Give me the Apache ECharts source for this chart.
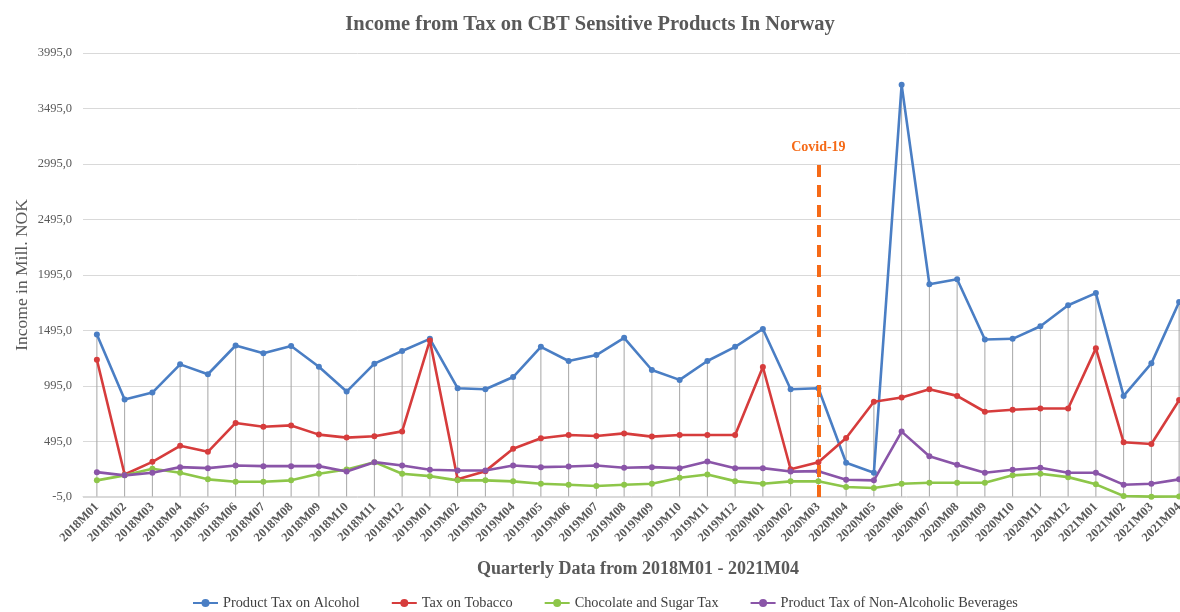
<!DOCTYPE html>
<html>
<head>
<meta charset="utf-8">
<title>Income from Tax on CBT Sensitive Products In Norway</title>
<script src="https://cdn.jsdelivr.net/npm/echarts@6/dist/echarts.min.js"></script>
<style>
  * { margin: 0; padding: 0; }
  html, body { width: 1180px; height: 612px; background: #fff; }
  #chart1 { width: 1180px; height: 612px; }
</style>
</head>
<body>
<div id="chart1"></div>
<script>
// months 2018M01 - 2021M04
var months = [
  '2018M01','2018M02','2018M03','2018M04','2018M05','2018M06','2018M07','2018M08','2018M09','2018M10','2018M11','2018M12',
  '2019M01','2019M02','2019M03','2019M04','2019M05','2019M06','2019M07','2019M08','2019M09','2019M10','2019M11','2019M12',
  '2020M01','2020M02','2020M03','2020M04','2020M05','2020M06','2020M07','2020M08','2020M09','2020M10','2020M11','2020M12',
  '2021M01','2021M02','2021M03','2021M04'
];
var alcohol = [
  1459, 873, 936, 1190, 1101, 1360, 1289, 1355, 1169, 945, 1196, 1310,
  1420, 975, 966, 1076, 1348, 1220, 1274, 1429, 1139, 1050, 1220, 1348,
  1509, 966, 975, 303, 214, 3708, 1912, 1957, 1414, 1420, 1533, 1722,
  1832, 906, 1199, 1751
];
var tobacco = [
  1231, 198, 312, 456, 402, 662, 628, 640, 557, 530, 542, 586,
  1405, 154, 228, 429, 524, 554, 545, 568, 539, 554, 554, 554,
  1166, 245, 309, 527, 853, 891, 966, 906, 763, 781, 792, 792,
  1334, 488, 473, 868
];
var chocolate = [
  145, 190, 250, 214, 154, 133, 133, 145, 205, 243, 309, 205,
  183, 145, 145, 136, 115, 106, 94, 106, 115, 169, 198, 138,
  115, 136, 136, 85, 76, 115, 124, 124, 124, 190, 205, 174,
  109, 4, -2, 0
];
var nonAlcoholic = [
  219, 190, 214, 264, 255, 279, 273, 273, 273, 225, 309, 279,
  241, 234, 234, 279, 264, 270, 279, 258, 264, 255, 315, 255,
  255, 224, 228, 151, 145, 584, 362, 285, 214, 241, 258, 214,
  214, 106, 115, 154
];
var seriesNames = ['Product Tax on Alcohol', 'Tax on Tobacco', 'Chocolate and Sugar Tax', 'Product Tax of Non-Alcoholic Beverages'];
var seriesColors = ['#4A7EC4', '#D63C3C', '#8DC649', '#8A55A8'];
var covidMonth = '2020M03';
var covidTop = 3010;

var serif = '"Liberation Serif", "DejaVu Serif", serif';

// drop lines go from the highest point of each month down to the axis
var dropLines = months.map(function (m, i) {
  return Math.max(alcohol[i], tobacco[i], chocolate[i], nonAlcoholic[i]);
});

var dom = document.getElementById('chart1');
var lineChart = echarts.init(dom);

function lineSeries(name, data, color) {
  return {
    name: name,
    type: 'line',
    data: data,
    symbol: 'circle',
    symbolSize: 6,
    z: 3,
    lineStyle: { color: color, width: 2.6 },
    itemStyle: { color: color }
  };
}

var option = {
  backgroundColor: '#fff',
  animation: false,
  title: {
    text: 'Income from Tax on CBT Sensitive Products In Norway',
    left: 'center',
    top: 9,
    textStyle: { fontFamily: serif, fontSize: 20.5, fontWeight: 'bold', color: '#595959' }
  },
  legend: {
    data: seriesNames,
    bottom: -3,
    left: 187,
    itemGap: 31,
    itemWidth: 25,
    itemHeight: 10,
    textStyle: { fontFamily: serif, fontSize: 14.3, color: '#404040' }
  },
  // the plot runs past the right edge, as in the original crop
  grid: {
    left: 83,
    top: 53,
    width: 1110,
    bottom: 115,
    containLabel: false,
    outerBoundsMode: 'none'
  },
  xAxis: {
    type: 'category',
    data: months,
    boundaryGap: true,
    name: 'Quarterly Data from 2018M01 - 2021M04',
    nameLocation: 'middle',
    nameGap: 63,
    nameTextStyle: { fontFamily: serif, fontSize: 18, fontWeight: 'bold', color: '#595959' },
    axisLine: { lineStyle: { color: '#d9d9d9', width: 1 } },
    axisTick: { show: false },
    axisLabel: {
      rotate: 45,
      interval: 0,
      margin: 8,
      fontFamily: serif,
      fontSize: 12.5,
      fontWeight: 'bold',
      color: '#595959'
    },
    splitLine: { show: false }
  },
  yAxis: {
    type: 'value',
    min: -5,
    max: 3995,
    interval: 500,
    name: 'Income in Mill. NOK',
    nameLocation: 'middle',
    nameGap: 52,
    nameMoveOverlap: false,
    nameTextStyle: { fontFamily: serif, fontSize: 17.5, color: '#595959' },
    axisLine: { show: false },
    axisTick: { show: false },
    axisLabel: {
      margin: 11,
      fontFamily: serif,
      fontSize: 12.5,
      color: '#595959',
      formatter: function (v) { return v.toFixed(1).replace('.', ','); }
    },
    splitLine: { lineStyle: { color: '#d9d9d9', width: 1 } }
  },
  series: [
    {
      name: 'drop lines',
      type: 'bar',
      data: dropLines,
      barWidth: 1,
      silent: true,
      z: 1,
      itemStyle: { color: '#a6a6a6' },
      markLine: {
        silent: true,
        symbol: 'none',
        lineStyle: { color: '#F56A17', type: [12, 8], width: 4 },
        label: {
          show: true,
          position: 'end',
          distance: 8,
          formatter: 'Covid-19',
          fontFamily: serif,
          fontSize: 14,
          fontWeight: 'bold',
          color: '#F56A17'
        },
        data: [[{ xAxis: covidMonth, yAxis: -5 }, { xAxis: covidMonth, yAxis: covidTop }]]
      }
    },
    lineSeries(seriesNames[0], alcohol, seriesColors[0]),
    lineSeries(seriesNames[1], tobacco, seriesColors[1]),
    lineSeries(seriesNames[2], chocolate, seriesColors[2]),
    lineSeries(seriesNames[3], nonAlcoholic, seriesColors[3])
  ]
};

lineChart.setOption(option);
</script>
</body>
</html>
